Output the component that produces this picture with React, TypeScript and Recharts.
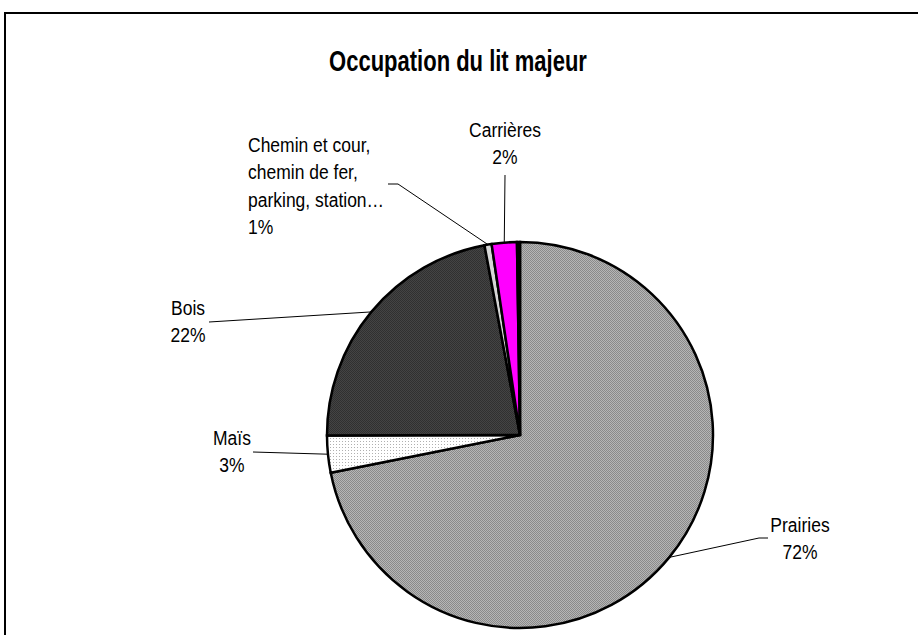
import React from 'react';
import { PieChart, Pie, Cell } from 'recharts';

const categories = [
  'Prairies',
  'Maïs',
  'Bois',
  'Chemin et cour, chemin de fer, parking, station…',
  'Carrières',
  'Autres',
];
const shares = [71.9, 3.1, 22.1, 0.6, 2.1, 0.25];
const labelLines = [
  ['Prairies'],
  ['Maïs'],
  ['Bois'],
  ['Chemin et cour,', 'chemin de fer,', 'parking, station…'],
  ['Carrières'],
  [],
];

const data = categories.map((name, i) => ({ name, value: shares[i] }));

const fills = [
  'url(#patPrairies)',
  'url(#patMais)',
  'url(#patBois)',
  '#d6d6d6',
  '#ff00ff',
  '#000000',
];

// label placement relative to the pie centre
const labelLayout: Record<number, { x: number; y: number; anchor: 'start' | 'middle'; leader: number[][] }> = {
  0: { x: 280, y: 97, anchor: 'middle', leader: [[239, 103], [248, 103]] },
  1: { x: -288, y: 10, anchor: 'middle', leader: [[-267, 17]] },
  2: { x: -332, y: -120, anchor: 'middle', leader: [[-311, -113]] },
  3: { x: -272, y: -283, anchor: 'start', leader: [[-122, -251], [-132, -251]] },
  4: { x: -15, y: -298, anchor: 'middle', leader: [[-15, -260]] },
};

const RADIAN = Math.PI / 180;
const LINE_H = 27.5;
const STRETCH = 1.2;

function SliceLabel(props: any) {
  const { cx, cy, midAngle, outerRadius, index, percent } = props;
  const lay = labelLayout[index];
  if (!lay) return null;
  const sx = cx + outerRadius * Math.cos(-midAngle * RADIAN);
  const sy = cy + outerRadius * Math.sin(-midAngle * RADIAN);
  const pts = [[sx, sy], ...lay.leader.map(([dx, dy]) => [cx + dx, cy + dy])];
  const lines = [...labelLines[index], `${Math.round(percent * 100)}%`];
  return (
    <g>
      <polyline
        points={pts.map((p) => p.join(',')).join(' ')}
        fill="none"
        stroke="#000"
        strokeWidth={1}
      />
      <text
        transform={`translate(${cx + lay.x} ${cy + lay.y}) scale(1 ${STRETCH})`}
        x={0}
        y={0}
        textAnchor={lay.anchor}
        fontFamily="'Liberation Sans', Arial, sans-serif"
        fontSize={17.5}
        fill="#000"
      >
        {lines.map((l, i) => (
          <tspan key={i} x={0} dy={i === 0 ? 0 : LINE_H / STRETCH}>
            {l}
          </tspan>
        ))}
      </text>
    </g>
  );
}

export default function App() {
  return (
    <div
      style={{
        position: 'fixed',
        left: 0,
        top: 0,
        width: 918,
        height: 635,
        overflow: 'hidden',
        background: '#fff',
      }}
    >
      <div
        style={{
          position: 'absolute',
          left: 4,
          top: 12,
          width: 1000,
          height: 1000,
          border: '2px solid #000',
        }}
      />
      <div style={{ position: 'absolute', left: 0, top: 0 }}>
        <PieChart width={918} height={635} margin={{ top: 0, right: 0, bottom: 0, left: 0 }}>
          <defs>
            <pattern id="patPrairies" width="2" height="2" patternUnits="userSpaceOnUse">
              <rect width="2" height="2" fill="#b6b6b6" />
              <rect width="1" height="1" fill="#8a8a8a" />
              <rect x="1" y="1" width="1" height="1" fill="#8a8a8a" />
            </pattern>
            <pattern id="patBois" width="2" height="2" patternUnits="userSpaceOnUse">
              <rect width="2" height="2" fill="#444444" />
              <rect width="1" height="1" fill="#303030" />
              <rect x="1" y="1" width="1" height="1" fill="#303030" />
            </pattern>
            <pattern id="patMais" width="3" height="3" patternUnits="userSpaceOnUse">
              <rect width="3" height="3" fill="#ffffff" />
              <rect width="1" height="1" fill="#b0b0b0" />
            </pattern>
          </defs>
          <text
            transform="translate(458 71) scale(1 1.3)"
            x={0}
            y={0}
            textAnchor="middle"
            fontFamily="'Liberation Sans', Arial, sans-serif"
            fontWeight="bold"
            fontSize={22}
            fill="#000"
          >
            Occupation du lit majeur
          </text>
          <Pie
            data={data}
            dataKey="value"
            nameKey="name"
            cx={520}
            cy={435}
            outerRadius={193}
            startAngle={90}
            endAngle={-270}
            stroke="#000"
            strokeWidth={2.5}
            label={SliceLabel}
            labelLine={false}
            isAnimationActive={false}
          >
            {data.map((d, i) => (
              <Cell key={d.name} fill={fills[i]} stroke="#000" strokeWidth={2.5} />
            ))}
          </Pie>
        </PieChart>
      </div>
    </div>
  );
}
